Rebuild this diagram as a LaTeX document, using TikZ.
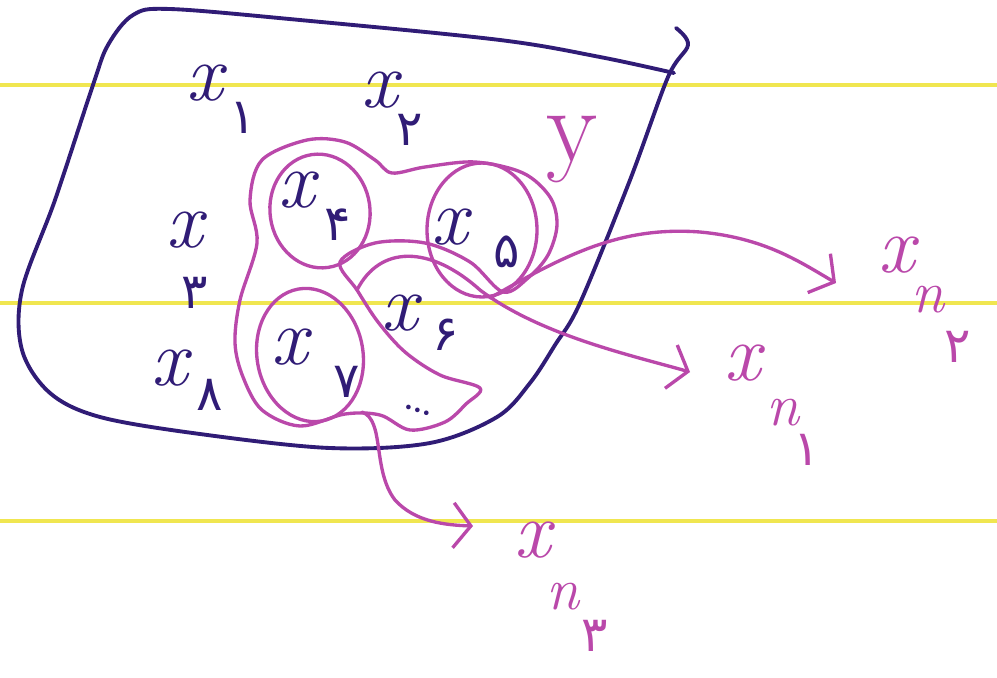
\documentclass[tikz,border=0pt]{standalone}
\usepackage{fontspec}
\newfontfamily\fadigits[Script=Arabic]{DejaVu Sans}
\usetikzlibrary{arrows.meta}
\definecolor{navyink}{RGB}{48,28,118}
\definecolor{pinkink}{RGB}{186,72,170}
\definecolor{ruleyellow}{RGB}{240,230,80}
\tikzset{
  navyline/.style={draw=navyink, line width=2.2pt, line cap=round, line join=round},
  pinkline/.style={draw=pinkink, line width=1.9pt, line cap=round, line join=round},
  xlab/.style={text=#1, font=\fontsize{46}{46}\selectfont\itshape, inner sep=0pt},
  nlab/.style={text=pinkink, font=\fontsize{34}{34}\selectfont\itshape, inner sep=0pt},
  digit/.style={text=#1, font=\fadigits\fontsize{28}{28}\selectfont, inner sep=0pt},
}
\begin{document}
\begin{tikzpicture}[x=0.02cm, y=-0.02cm, >={Straight Barb[length=3.5mm,width=9mm]}]
    \useasboundingbox[fill=white] (0,0) rectangle (997,677);
    % ruled lines of the notebook
    \foreach \y in {85,303,521} {
        \draw[ruleyellow, line width=2.6pt] (0,\y) -- (997,\y);
    }
    % the whole set
    \draw[navyline] plot[smooth, tension=0.55] coordinates {(676,28) (688,45) (668,77)
        (630,180) (580,303) (555,345) (530,383) (497,417) (430,443) (330,448) (200,434)
        (100,417) (50,393) (22,350) (22,290) (55,200) (93,85) (108,45) (133,15) (170,9)
        (300,20) (500,40) (600,57) (674,73)};
    % the subset y
    \draw[pinkline] plot[smooth cycle, tension=0.55] coordinates {(262,160) (307,140)
        (345,142) (375,160) (392,173) (425,167) (475,162) (523,173) (550,197) (557,225)
        (548,255) (528,278) (503,292) (470,262) (425,243) (375,243) (340,262) (357,290)
        (378,322) (405,352) (440,375) (480,388) (466,404) (445,422) (410,430) (380,415)
        (345,414) (300,426) (262,410) (243,377) (235,343) (240,300) (257,243) (250,200)};
    \draw[pinkline, rotate around={8:(320,211)}] (320,211) ellipse [x radius=1cm, y radius=1.14cm];
    \draw[pinkline] (482,230) ellipse [x radius=1.1cm, y radius=1.34cm];
    \draw[pinkline, rotate around={10:(310,355)}] (310,355) ellipse [x radius=1.06cm, y radius=1.34cm];
    % elements inside
    \node[xlab=navyink] (x1) at (205,83) {x};
    \node[digit=navyink] (d1) at (243,118) {۱};
    \node[xlab=navyink] (x2) at (380,90) {x};
    \node[digit=navyink] (d2) at (410,130) {۲};
    \node[xlab=navyink] (x3) at (185,230) {x};
    \node[digit=navyink] (d3) at (195,293) {۳};
    \node[xlab=navyink] (x8) at (170,368) {x};
    \node[digit=navyink] (d8) at (210,395) {۸};
    \node[xlab=navyink] (x4) at (297,190) {x};
    \node[digit=navyink] (d4) at (338,225) {۴};
    \node[xlab=navyink] (x5) at (450,227) {x};
    \node[digit=navyink] (d5) at (507,252) {۵};
    \node[xlab=navyink] (x7) at (290,347) {x};
    \node[digit=navyink] (d7) at (347,382) {۷};
    \node[xlab=navyink] (x6) at (400,313) {x};
    \node[digit=navyink] (d6) at (446,335) {۶};
    \node[text=navyink, font=\fontsize{32}{32}\selectfont, inner sep=0pt, rotate=-18] (dots) at (418,410) {\ldots};
    \node[text=pinkink, font=\fontsize{60}{60}\selectfont, inner sep=0pt] (ylab) at (572,150) {y};
    % images outside
    \node[xlab=pinkink] (xn1) at (743,363) {x};
    \node[nlab] (n1) at (783,413) {n};
    \node[digit=pinkink] (dn1) at (807,450) {۱};
    \node[xlab=pinkink] (xn2) at (897,255) {x};
    \node[nlab] (n2) at (928,300) {n};
    \node[digit=pinkink] (dn2) at (958,347) {۲};
    \node[xlab=pinkink] (xn3) at (533,540) {x};
    \node[nlab] (n3) at (563,597) {n};
    \node[digit=pinkink] (dn3) at (595,636) {۳};
    % arrows
    \coordinate (s1) at (357,290);
    \coordinate (t1) at (690,372);
    \coordinate (s2) at (490,298);
    \coordinate (t2) at (836,283);
    \coordinate (s3) at (362,412);
    \coordinate (t3) at (473,526);
    \draw[pinkline, ->] (s1) .. controls (380,245) and (430,245) .. (480,290)
        .. controls (540,335) and (630,355) .. (t1);
    \draw[pinkline, ->] (s2) .. controls (565,255) and (620,226) .. (700,232)
        .. controls (765,238) and (800,262) .. (t2);
    \draw[pinkline, ->] (s3) .. controls (385,420) and (372,470) .. (395,500)
        .. controls (415,522) and (445,525) .. (t3);
\end{tikzpicture}
\end{document}
